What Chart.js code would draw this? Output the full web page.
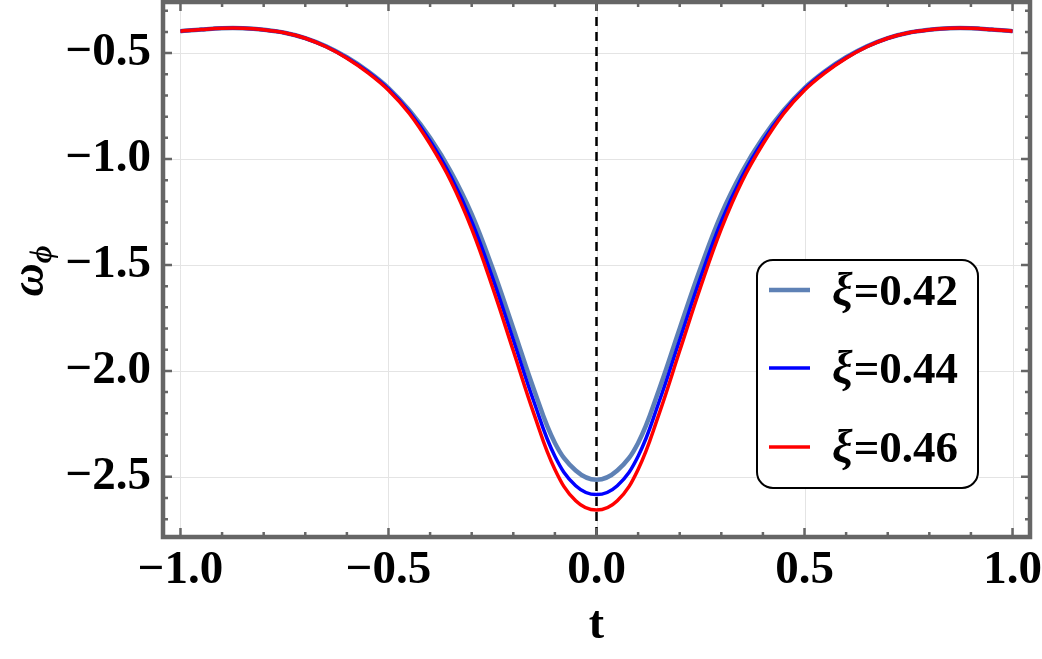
<!DOCTYPE html>
<html lang="en">
<head>
    <meta charset="UTF-8">
    <title>omega_phi vs t</title>
    <script src="https://cdn.jsdelivr.net/npm/chart.js"></script>
    <style>
        html, body { margin: 0; padding: 0; background: #fff; }
        #wrap { width: 1042px; height: 659px; position: relative; }
    </style>
</head>
<body>
    <div id="wrap"><canvas id="chart"></canvas></div>

    <script>
        // values
        const tValues = [-1.0, -0.95, -0.9, -0.85, -0.8, -0.75, -0.7, -0.65, -0.6, -0.55, -0.5, -0.45, -0.4, -0.35, -0.3, -0.25, -0.2, -0.15, -0.1, -0.05,
            0.0, 0.05, 0.1, 0.15, 0.2, 0.25, 0.3, 0.35, 0.4, 0.45, 0.5, 0.55, 0.6, 0.65, 0.7, 0.75, 0.8, 0.85, 0.9, 0.95, 1.0];

        const xi042 = [-0.397, -0.389, -0.383, -0.383, -0.390, -0.404, -0.429, -0.468, -0.520, -0.585, -0.665, -0.770, -0.900, -1.060, -1.260, -1.515, -1.800, -2.090, -2.340, -2.470,
            -2.514, -2.470, -2.340, -2.090, -1.800, -1.515, -1.260, -1.060, -0.900, -0.770, -0.665, -0.585, -0.520, -0.468, -0.429, -0.404, -0.390, -0.383, -0.383, -0.389, -0.397];

        const xi044 = [-0.397, -0.389, -0.383, -0.383, -0.390, -0.404, -0.430, -0.469, -0.522, -0.588, -0.670, -0.778, -0.915, -1.083, -1.295, -1.560, -1.853, -2.148, -2.403, -2.542,
            -2.584, -2.542, -2.403, -2.148, -1.853, -1.560, -1.295, -1.083, -0.915, -0.778, -0.670, -0.588, -0.522, -0.469, -0.430, -0.404, -0.390, -0.383, -0.383, -0.389, -0.397];

        const xi046 = [-0.397, -0.389, -0.383, -0.383, -0.390, -0.404, -0.430, -0.470, -0.524, -0.592, -0.675, -0.785, -0.930, -1.105, -1.330, -1.605, -1.905, -2.205, -2.465, -2.613,
            -2.657, -2.613, -2.465, -2.205, -1.905, -1.605, -1.330, -1.105, -0.930, -0.785, -0.675, -0.592, -0.524, -0.470, -0.430, -0.404, -0.390, -0.383, -0.383, -0.389, -0.397];

        const seriesLabels = ['0.42', '0.44', '0.46'];
        const seriesColors = ['#5e81b5', '#0000ff', '#ff0000'];

        const xTicks = [-1.0, -0.5, 0.0, 0.5, 1.0];
        const yTicks = [-2.5, -2.0, -1.5, -1.0, -0.5];

        const serif = 'Liberation Serif, Times New Roman, serif';
        const frameColor = '#666666';

        function fmt(v) {
            return (v < 0 ? '\u2212' : '') + Math.abs(v).toFixed(1);
        }

        function toPoints(ys) {
            return tValues.map((t, i) => ({ x: t, y: ys[i] }));
        }

        const framePlugin = {
            id: 'frame',
            beforeDraw(chart) {
                const ctx = chart.ctx;
                ctx.save();
                ctx.fillStyle = '#fff';
                ctx.fillRect(0, 0, chart.width, chart.height);
                ctx.restore();
            },
            beforeDatasetsDraw(chart) {
                const { ctx, chartArea: a, scales: { x, y } } = chart;
                ctx.save();
                ctx.strokeStyle = '#e4e4e4';
                ctx.lineWidth = 1;
                xTicks.forEach(v => {
                    const px = Math.round(x.getPixelForValue(v)) + 0.5;
                    ctx.beginPath(); ctx.moveTo(px, a.top); ctx.lineTo(px, a.bottom); ctx.stroke();
                });
                yTicks.forEach(v => {
                    const py = Math.round(y.getPixelForValue(v)) + 0.5;
                    ctx.beginPath(); ctx.moveTo(a.left, py); ctx.lineTo(a.right, py); ctx.stroke();
                });
                ctx.restore();
            },
            afterDatasetsDraw(chart) {
                const { ctx, chartArea: a, scales: { x, y } } = chart;
                ctx.save();
                // dashed line at t = 0
                const x0 = x.getPixelForValue(0);
                ctx.strokeStyle = '#000';
                ctx.lineWidth = 2.5;
                ctx.setLineDash([9, 6]);
                ctx.beginPath(); ctx.moveTo(x0, a.top); ctx.lineTo(x0, a.bottom); ctx.stroke();
                ctx.setLineDash([]);

                // ticks on all four sides
                ctx.strokeStyle = frameColor;
                ctx.lineWidth = 2.5;
                for (let k = -10; k <= 10; k++) {
                    const px = x.getPixelForValue(k / 10);
                    const len = (k % 5 === 0) ? 9 : 5;
                    ctx.beginPath();
                    ctx.moveTo(px, a.bottom); ctx.lineTo(px, a.bottom - len);
                    ctx.moveTo(px, a.top); ctx.lineTo(px, a.top + len);
                    ctx.stroke();
                }
                for (let k = -27; k <= -3; k++) {
                    const py = y.getPixelForValue(k / 10);
                    const len = (k % 5 === 0) ? 9 : 5;
                    ctx.beginPath();
                    ctx.moveTo(a.left, py); ctx.lineTo(a.left + len, py);
                    ctx.moveTo(a.right, py); ctx.lineTo(a.right - len, py);
                    ctx.stroke();
                }
                ctx.lineWidth = 4.5;
                ctx.strokeRect(a.left, a.top, a.right - a.left, a.bottom - a.top);
                ctx.restore();
            },
            afterDraw(chart) {
                const ctx = chart.ctx;
                ctx.save();
                // x axis title
                ctx.fillStyle = '#000';
                ctx.font = 'bold 46px ' + serif;
                ctx.textAlign = 'center';
                ctx.textBaseline = 'alphabetic';
                ctx.fillText('t', chart.scales.x.getPixelForValue(0), 638);

                // y axis title: omega with phi subscript
                ctx.save();
                ctx.translate(43, 271);
                ctx.rotate(-Math.PI / 2);
                ctx.textAlign = 'left';
                ctx.font = 'italic bold 46px ' + serif;
                const wOm = ctx.measureText('\u03c9').width;
                ctx.font = 'italic bold 31px ' + serif;
                const wPhi = ctx.measureText('\u03d5').width;
                const start = -(wOm + wPhi) / 2;
                ctx.font = 'italic bold 46px ' + serif;
                ctx.fillText('\u03c9', start, 0);
                ctx.font = 'italic bold 31px ' + serif;
                ctx.fillText('\u03d5', start + wOm, 8);
                ctx.restore();

                // legend box
                const bx = 757, by = 260, bw = 221, bh = 228, r = 16;
                ctx.fillStyle = '#fff';
                ctx.strokeStyle = '#000';
                ctx.lineWidth = 2;
                ctx.beginPath();
                ctx.roundRect(bx, by, bw, bh, r);
                ctx.fill();
                ctx.stroke();

                const rowY = [290, 368, 447];
                const widths = [4.5, 3.5, 3.5];
                seriesLabels.forEach((lab, i) => {
                    ctx.strokeStyle = seriesColors[i];
                    ctx.lineWidth = widths[i];
                    ctx.beginPath(); ctx.moveTo(769, rowY[i]); ctx.lineTo(810, rowY[i]); ctx.stroke();
                    ctx.fillStyle = '#000';
                    ctx.textAlign = 'left';
                    let tx = 832;
                    const base = rowY[i] + 15;
                    ctx.font = 'italic bold 46px ' + serif;
                    ctx.fillText('\u03be', tx, base);
                    tx += ctx.measureText('\u03be').width + 1;
                    ctx.font = 'bold 45px ' + serif;
                    ctx.fillText('=' + lab, tx, base);
                });
                ctx.restore();
            }
        };

        const tickFont = { family: serif, size: 47, weight: 'bold' };

        new Chart(document.getElementById('chart'), {
            type: 'line',
            data: {
                datasets: [
                    { label: '\u03be=' + seriesLabels[0], data: toPoints(xi042), borderColor: seriesColors[0], borderWidth: 4.5, order: 3 },
                    { label: '\u03be=' + seriesLabels[1], data: toPoints(xi044), borderColor: seriesColors[1], borderWidth: 3.5, order: 2 },
                    { label: '\u03be=' + seriesLabels[2], data: toPoints(xi046), borderColor: seriesColors[2], borderWidth: 3.5, order: 1 }
                ]
            },
            options: {
                responsive: true,
                maintainAspectRatio: false,
                animation: false,
                events: [],
                layout: { padding: { top: 2, right: 12, left: 0, bottom: 0 } },
                elements: {
                    point: { radius: 0 },
                    line: { tension: 0.4, fill: false }
                },
                plugins: {
                    legend: { display: false },
                    tooltip: { enabled: false }
                },
                scales: {
                    x: {
                        type: 'linear',
                        min: -1.042,
                        max: 1.042,
                        grid: { display: false, drawTicks: false },
                        border: { display: false },
                        afterBuildTicks: s => { s.ticks = xTicks.map(v => ({ value: v })); },
                        afterFit: s => {
                            s.height = 122;
                            s.paddingLeft = 0;
                            s.paddingRight = 0;
                        },
                        ticks: {
                            font: tickFont,
                            color: '#000',
                            padding: 6,
                            maxRotation: 0,
                            autoSkip: false,
                            callback: v => fmt(v)
                        }
                    },
                    y: {
                        min: -2.784,
                        max: -0.259,
                        grid: { display: false, drawTicks: false },
                        border: { display: false },
                        afterBuildTicks: s => { s.ticks = yTicks.map(v => ({ value: v })); },
                        afterFit: s => {
                            s.width = 163;
                            s.paddingTop = 0;
                            s.paddingBottom = 0;
                        },
                        ticks: {
                            font: tickFont,
                            color: '#000',
                            padding: 12,
                            autoSkip: false,
                            callback: v => fmt(v)
                        }
                    }
                }
            },
            plugins: [framePlugin]
        });
    </script>
</body>
</html>
